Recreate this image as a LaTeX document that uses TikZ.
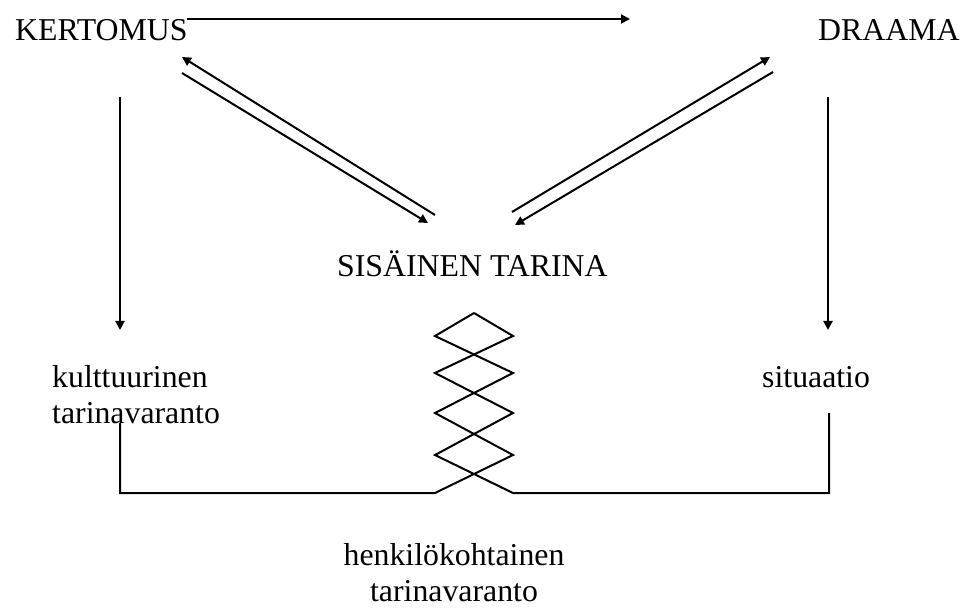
\documentclass[tikz,border=0pt]{standalone}
\usepackage{fontspec}
\setmainfont{Liberation Serif}
\usepackage{tikz}
\usetikzlibrary{calc,arrows.meta}
\tikzset{
  base/.style={draw=black, line width=2pt, line join=miter},
  arr/.style={base, -{Triangle[length=9pt,width=9pt]}},
  lab/.style={inner sep=0pt, anchor=base west, font=\fontsize{31.8}{36}\selectfont},
}

\begin{document}
\begin{tikzpicture}[x=1pt,y=-1pt]
  \useasboundingbox (0,0) rectangle (966,609);
  \node[lab] (kert) at (15,41) {KERTOMUS};
  \node[lab] (draama) at (818,41) {DRAAMA};
  \node[lab] (sis) at (337,277) {SISÄINEN TARINA};
  \node[lab, align=left] (kult) at (52,423) {kulttuurinen\\tarinavaranto};
  \node[lab] (sit) at (762,387) {situaatio};
  \node[lab, anchor=base, align=center] (henk) at (454,601) {henkilökohtainen\\tarinavaranto};
  \coordinate (topA) at (187,19);
  \coordinate (topB) at (630,19);
  \coordinate (lu1) at (182,57);
  \coordinate (lu2) at (435,215);
  \coordinate (ll1) at (182,73);
  \coordinate (ll2) at (428,223);
  \coordinate (ru1) at (512,212);
  \coordinate (ru2) at (770,57);
  \coordinate (rl1) at (773,72);
  \coordinate (rl2) at (515,225);
  \coordinate (vl1) at (120,97);
  \coordinate (vl2) at (120,330);
  \coordinate (vr1) at (828,97);
  \coordinate (vr2) at (828,330);
  \coordinate (T) at (474,313);
  \coordinate (endL) at (120,423);
  \coordinate (endR) at (829,413);
  \draw[arr] (topA) -- (topB);
  \draw[arr] (lu2) -- (lu1);
  \draw[arr] (ll1) -- (ll2);
  \draw[arr] (ru1) -- (ru2);
  \draw[arr] (rl1) -- (rl2);
  \draw[arr] (vl1) -- (vl2);
  \draw[arr] (vr1) -- (vr2);
  \draw[base] (T) -- (435,336) -- (513,373) -- (435,413) -- (513,455) -- (435,493) -- (120,493) -- (endL);
  \draw[base] (T) -- (513,336) -- (435,373) -- (513,413) -- (435,455) -- (513,493) -- (829,493) -- (endR);
\end{tikzpicture}
\end{document}
